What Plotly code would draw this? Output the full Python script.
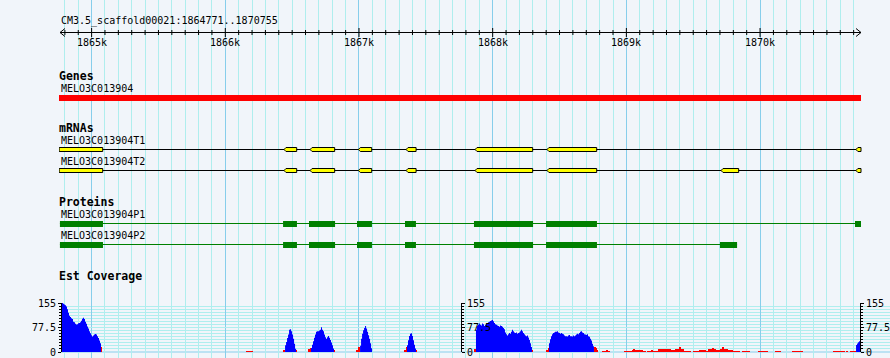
import plotly.graph_objects as go

# ---------------- data ----------------
view_start = 1864771
view_end = 1870755
ref_label = "CM3.5_scaffold00021:1864771..1870755"

ruler_major_ticks = [1865000, 1866000, 1867000, 1868000, 1869000, 1870000]
ruler_major_labels = ["1865k", "1866k", "1867k", "1868k", "1869k", "1870k"]
ruler_minor_step = 100

track_titles = ["Genes", "mRNAs", "Proteins", "Est Coverage"]

gene_label = "MELO3C013904"
gene_start = 1864756
gene_end = 1870755

mrna_labels = ["MELO3C013904T1", "MELO3C013904T2"]
t1_exon_starts = [1864757, 1866439, 1866634, 1866995, 1867352, 1867868, 1868406, 1870717]
t1_exon_ends = [1865083, 1866534, 1866818, 1867095, 1867427, 1868299, 1868778, 1870755]
t2_exon_starts = [1864757, 1866439, 1866634, 1866995, 1867352, 1867868, 1868406, 1869708, 1870717]
t2_exon_ends = [1865083, 1866534, 1866818, 1867095, 1867427, 1868299, 1868778, 1869840, 1870755]

protein_labels = ["MELO3C013904P1", "MELO3C013904P2"]
p1_cds_starts = [1864763, 1866432, 1866626, 1866985, 1867344, 1867860, 1868399, 1870710]
p1_cds_ends = [1865085, 1866536, 1866821, 1867097, 1867426, 1868302, 1868780, 1870755]
p2_cds_starts = [1864763, 1866432, 1866626, 1866985, 1867344, 1867860, 1868399, 1869700]
p2_cds_ends = [1865085, 1866536, 1866821, 1867097, 1867426, 1868302, 1868780, 1869828]

cov_max = 155
cov_tick_values = [0, 77.5, 155]
cov_tick_labels = ["0", "77.5", "155"]
cov_bin_bp = 7.48

cov_blue_starts = [1864771, 1866447, 1866641, 1867008, 1867359, 1867875, 1868421, 1870718]
cov_blue_1 = [155, 155, 153, 150, 148, 144, 135, 124, 115, 111,
              107, 104, 96, 94, 89, 87, 88, 91, 92, 94,
              99, 105, 108, 104, 96, 89, 81, 74, 66, 59,
              53, 49, 52, 55, 57, 55, 50, 44, 36, 28]
cov_blue_2 = [21, 32, 44, 55, 70, 72, 66, 55, 42, 26, 10]
cov_blue_3 = [13, 23, 34, 45, 55, 64, 66, 66, 68, 70, 78, 70, 66, 55, 47, 42, 47, 51,
              45, 38, 30, 21, 11]
cov_blue_4 = [20, 42, 58, 69, 76, 82, 74, 64, 53, 42, 28, 12]
cov_blue_5 = [21, 37, 51, 58, 59, 51, 37, 23, 11]
cov_blue_6 = [70, 82, 86, 90, 86, 84, 90, 88, 82, 86,
              90, 92, 94, 96, 98, 100, 101, 97, 92, 88,
              86, 84, 82, 80, 84, 82, 80, 76, 72, 62,
              56, 52, 56, 60, 58, 64, 70, 66, 62, 60,
              62, 58, 60, 62, 66, 70, 66, 60, 56, 52,
              50, 52, 46, 38, 28, 16]
cov_blue_7 = [28, 40, 50, 56, 60, 62, 64, 64, 66, 62,
              60, 58, 60, 58, 56, 52, 50, 50, 49, 52,
              54, 50, 50, 49, 52, 50, 52, 55, 58, 56,
              60, 64, 66, 62, 60, 56, 55, 54, 56, 50,
              48, 42, 36, 26, 18]
cov_blue_8 = [22, 27, 31, 34, 36]
cov_blue_series = [cov_blue_1, cov_blue_2, cov_blue_3, cov_blue_4,
                   cov_blue_5, cov_blue_6, cov_blue_7, cov_blue_8]

cov_red_starts = [1865070, 1866155, 1866432, 1866439, 1866529, 1866626, 1866634, 1866813,
                  1866985, 1866993, 1867000, 1867344, 1867352, 1867426, 1867860, 1868294,
                  1868399, 1868406, 1868414, 1868758, 1868766, 1868773,
                  1868818, 1868848, 1868863, 1868982, 1869042, 1869057, 1869064, 1869124,
                  1869154, 1869184, 1869199, 1869237, 1869334, 1869364, 1869394, 1869409, 1869431,
                  1869498, 1869543, 1869596, 1869611, 1869641, 1869656, 1869663, 1869700,
                  1869715, 1869730, 1869760, 1869798, 1869865, 1869985, 1870112, 1870239,
                  1870546, 1870650, 1870673]
cov_red_ends = [1865078, 1866207, 1866439, 1866447, 1866536, 1866634, 1866641, 1866821,
                1866993, 1867000, 1867008, 1867352, 1867359, 1867434, 1867875, 1868302,
                1868406, 1868414, 1868421, 1868766, 1868773, 1868781,
                1868848, 1868863, 1868878, 1869042, 1869057, 1869064, 1869124, 1869147,
                1869184, 1869199, 1869237, 1869334, 1869364, 1869394, 1869409, 1869431, 1869484,
                1869543, 1869596, 1869611, 1869641, 1869656, 1869663, 1869700, 1869715,
                1869730, 1869760, 1869798, 1869850, 1869925, 1870059, 1870157, 1870321,
                1870635, 1870658, 1870718]
cov_red_values = [16, 3, 6, 6, 6, 10, 13, 6,
                  6, 10, 16, 6, 16, 6, 10, 6,
                  6, 6, 13, 16, 13, 6,
                  3, 6, 3, 3, 6, 10, 6, 3,
                  3, 6, 3, 10, 6, 10, 16, 10, 3,
                  3, 6, 3, 10, 13, 10, 6, 10,
                  16, 10, 6, 3, 3, 3, 3, 3,
                  3, 3, 3]

# ---------------- layout constants ----------------
W, H = 890, 358
ML, MR = 59, 0
VIEW_PX0, VIEW_PX1 = 61, 861
PLOT_W = W - ML - MR
bpp = (view_end - view_start) / (VIEW_PX1 - VIEW_PX0)   # bp per pixel
x_range = [view_start - (VIEW_PX0 - ML) * bpp, view_end + (W - MR - VIEW_PX1) * bpp]


def paper_x(px):
    return (px - ML) / PLOT_W


BG = "#F1F5FA"
GRID_MINOR = "#AFEEEE"
GRID_MAJOR = "#87CEEB"
MONO = "DejaVu Sans Mono"
YELLOW = "#FFFF00"
GREEN = "#008000"

first_tick = (view_start // ruler_minor_step + 1) * ruler_minor_step
all_ticks = list(range(first_tick, view_end + 1, ruler_minor_step))
minor_ticks = [t for t in all_ticks if t not in ruler_major_ticks]

fig = go.Figure()

# ---------------- ruler ----------------
fig.add_trace(go.Scatter(x=[view_start - bpp, view_end], y=[32.5, 32.5], mode="lines",
                         line=dict(color="black", width=1), hoverinfo="skip"))
fig.add_trace(go.Scatter(x=[view_start + 4 * bpp, view_start - bpp, view_start + 4 * bpp],
                         y=[28.5, 32.5, 36.5], mode="lines",
                         line=dict(color="black", width=1), hoverinfo="skip"))
fig.add_trace(go.Scatter(x=[view_end - 5 * bpp, view_end, view_end - 5 * bpp],
                         y=[28.5, 32.5, 36.5], mode="lines",
                         line=dict(color="black", width=1), hoverinfo="skip"))
mx, my = [], []
for t in minor_ticks:
    mx += [t, t, None]
    my += [30, 35, None]
fig.add_trace(go.Scatter(x=mx, y=my, mode="lines", line=dict(color="black", width=1),
                         hoverinfo="skip"))
Mx, My = [], []
for t in ruler_major_ticks:
    Mx += [t, t, None]
    My += [28, 37, None]
fig.add_trace(go.Scatter(x=Mx, y=My, mode="lines", line=dict(color="black", width=1),
                         hoverinfo="skip"))

# ---------------- coverage ----------------
for start, vals in zip(cov_blue_starts, cov_blue_series):
    xs = [start + i * cov_bin_bp for i in range(len(vals) + 1)]
    ys = list(vals) + [vals[-1]]
    fig.add_trace(go.Scatter(x=xs, y=ys, yaxis="y2", mode="lines",
                             line=dict(color="#0000FF", width=0, shape="hv"),
                             fill="tozeroy", fillcolor="#0000FF", hoverinfo="skip"))

fig.add_trace(go.Bar(x=[(s + e) / 2 for s, e in zip(cov_red_starts, cov_red_ends)],
                     y=cov_red_values,
                     width=[e - s for s, e in zip(cov_red_starts, cov_red_ends)],
                     yaxis="y2", marker=dict(color="#FF0000", line=dict(width=0)),
                     hoverinfo="skip"))

for ax in ["y3", "y4"]:
    fig.add_trace(go.Scatter(x=[view_start], y=[0], yaxis=ax, mode="markers",
                             marker=dict(opacity=0), hoverinfo="skip"))

# ---------------- shapes: gene / mRNA / protein ----------------
shapes = []
shapes.append(dict(type="rect", xref="x", yref="y", x0=gene_start, x1=gene_end, y0=95, y1=101,
                   fillcolor="#FF0000", line=dict(width=0)))

d = 2 * bpp
for (starts, ends), yc in zip([(t1_exon_starts, t1_exon_ends), (t2_exon_starts, t2_exon_ends)],
                              [149.5, 170.5]):
    shapes.append(dict(type="line", xref="x", yref="y", x0=min(starts), x1=max(ends),
                       y0=yc, y1=yc, line=dict(color="black", width=1)))
    y0, y1 = yc - 2, yc + 2
    for s, e in zip(starts, ends):
        if s > view_start:
            path = f"M {s},{yc} L {s + d},{y0} L {e},{y0} L {e},{y1} L {s + d},{y1} Z"
        else:
            path = f"M {s},{y0} L {e},{y0} L {e},{y1} L {s},{y1} Z"
        shapes.append(dict(type="path", xref="x", yref="y", path=path, fillcolor=YELLOW,
                           line=dict(color="black", width=1)))

for (starts, ends), yc in zip([(p1_cds_starts, p1_cds_ends), (p2_cds_starts, p2_cds_ends)],
                              [223.5, 244.5]):
    shapes.append(dict(type="line", xref="x", yref="y", x0=min(starts), x1=max(ends),
                       y0=yc, y1=yc, line=dict(color=GREEN, width=1)))
    for s, e in zip(starts, ends):
        shapes.append(dict(type="rect", xref="x", yref="y", x0=s, x1=e, y0=yc - 2.5,
                           y1=yc + 3.5, fillcolor=GREEN, line=dict(width=0)))

# ---------------- text ----------------
annotations = []


def label(text, px, y, bold=False, size=10):
    annotations.append(dict(x=paper_x(px), xref="paper", y=y, yref="y",
                            text=f"<b>{text}</b>" if bold else text, showarrow=False,
                            xanchor="left", yanchor="middle", borderpad=0, borderwidth=0,
                            font=dict(family=MONO, size=size, color="black")))


label(ref_label, 60.5, 20.5)
label(track_titles[0], 59, 76.2, bold=True, size=11.5)
label(gene_label, 60.5, 88.3)
label(track_titles[1], 59, 127.5, bold=True, size=11.5)
label(mrna_labels[0], 60.5, 140)
label(mrna_labels[1], 60.5, 161.3)
label(track_titles[2], 59, 202, bold=True, size=11.5)
label(protein_labels[0], 60.5, 214.2)
label(protein_labels[1], 60.5, 235.3)
label(track_titles[3], 59, 275.5, bold=True, size=11.5)

for t, lab in zip(ruler_major_ticks, ruler_major_labels):
    annotations.append(dict(x=t, xref="x", y=42.5, yref="y", text=lab, showarrow=False,
                            xanchor="center", yanchor="middle", borderpad=0, borderwidth=0,
                            font=dict(family=MONO, size=10, color="black")))

# ---------------- axes ----------------
cov_top_px, cov_bot_px = 303, 352
y2_domain = [(H - cov_bot_px) / H, (H - cov_top_px) / H]
cov_minor = [cov_max * i / 16 for i in range(1, 16) if i != 8]

cov_axis = dict(range=[0, cov_max], domain=y2_domain, anchor="free", tickmode="array",
                tickvals=cov_tick_values, ticktext=cov_tick_labels, ticks="outside",
                ticklen=3, tickwidth=1, tickcolor="black", showline=True, linecolor="black",
                linewidth=1, tickfont=dict(family=MONO, size=10, color="black"),
                fixedrange=True, zeroline=False, automargin=False)

fig.update_layout(
    width=W, height=H, autosize=False,
    margin=dict(l=ML, r=MR, t=0, b=0, pad=0, autoexpand=False),
    paper_bgcolor=BG, plot_bgcolor="rgba(0,0,0,0)",
    showlegend=False, hovermode=False, bargap=0,
    xaxis=dict(range=x_range, domain=[0, 1], anchor="y", showticklabels=False, ticks="",
               tickmode="array", tickvals=ruler_major_ticks, showgrid=True,
               gridcolor=GRID_MAJOR, gridwidth=1, zeroline=False, showline=False,
               minor=dict(tickvals=minor_ticks, showgrid=True, gridcolor=GRID_MINOR,
                          gridwidth=1, ticks=""),
               fixedrange=True, automargin=False),
    yaxis=dict(range=[H, 0], domain=[0, 1], anchor="x", visible=False, showgrid=False,
               zeroline=False, fixedrange=True, automargin=False),
    yaxis2=dict(**cov_axis, position=paper_x(VIEW_PX0), side="left", showgrid=True,
                gridcolor=GRID_MINOR, gridwidth=1,
                minor=dict(tickvals=cov_minor, ticks="outside", ticklen=2, tickcolor="black",
                           showgrid=True, gridcolor=GRID_MINOR, gridwidth=1)),
    yaxis3=dict(**cov_axis, overlaying="y2", position=paper_x(461), side="right",
                showgrid=False,
                minor=dict(tickvals=cov_minor, ticks="outside", ticklen=2, tickcolor="black",
                           showgrid=False)),
    yaxis4=dict(**cov_axis, overlaying="y2", position=paper_x(860), side="right",
                showgrid=False,
                minor=dict(tickvals=cov_minor, ticks="outside", ticklen=2, tickcolor="black",
                           showgrid=False)),
    shapes=shapes,
    annotations=annotations,
)

# baseline of coverage track
fig.add_shape(type="line", xref="paper", yref="y", x0=paper_x(VIEW_PX0), x1=1,
              y0=cov_bot_px, y1=cov_bot_px, line=dict(color=GRID_MAJOR, width=1), layer="below")

fig.write_html("out.html", config={"displayModeBar": False},
               post_script="document.body.style.margin='0';document.body.style.padding='0';"
                           "document.body.style.background='" + BG + "';")
